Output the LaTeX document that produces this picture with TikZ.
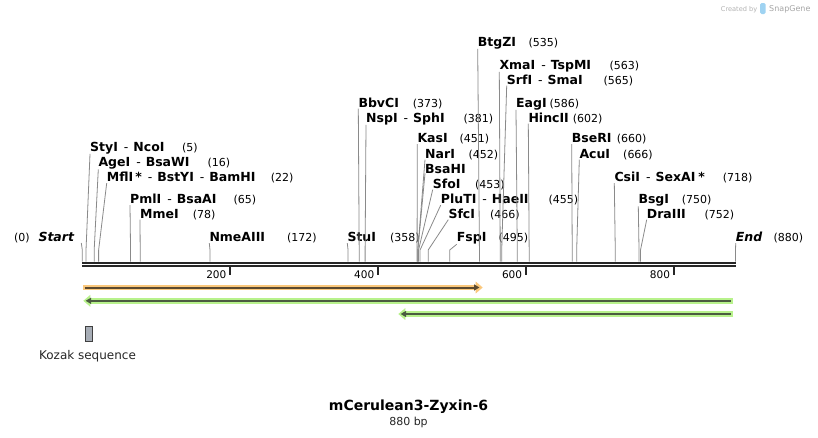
\documentclass[tikz,border=0pt]{standalone}
\usepackage{fontspec}
\setmainfont{DejaVu Sans}[ItalicFont={DejaVu Sans Oblique},BoldItalicFont={DejaVu Sans Bold Oblique}]
\usetikzlibrary{arrows.meta}
\definecolor{barcol}{HTML}{262626}
\definecolor{leadcol}{HTML}{8A8A8A}
\definecolor{orangeband}{HTML}{FBC87C}
\definecolor{orangeline}{HTML}{5B4A30}
\definecolor{greenband}{HTML}{B8F28C}
\definecolor{greenline}{HTML}{4B5B40}
\definecolor{kozakfill}{HTML}{A7ADB6}
\definecolor{logoblue}{HTML}{9FD3F2}
\newcommand{\enzsep}{\hspace{6pt}{\mdseries -}\hspace{5pt}}
\newcommand{\cutpos}[1]{{\mdseries\fontsize{11}{13}\selectfont #1}}
\newcommand{\enzname}[2]{\makebox[#1][l]{#2}}

\begin{document}
\begin{tikzpicture}[x=1pt, y=-1pt,
    enz/.style={anchor=base west, inner sep=0pt, font=\fontsize{12.5}{14}\selectfont\bfseries},
    leader/.style={draw=leadcol, line width=0.8pt},
    bar/.style={draw=barcol, line width=2.3pt},
    tickmark/.style={draw=barcol, line width=2pt},
    ticklbl/.style={anchor=base east, inner sep=0pt, font=\fontsize{10.5}{12}\selectfont},
    band/.style={line width=5.6pt},
    bandtip/.style={-{Triangle[length=7pt,width=11.5pt]}},
    featline/.style={line width=2pt, -{Triangle[length=5.5pt,width=6pt]}},
    kozakbox/.style={draw=black!75, fill=kozakfill, line width=1pt, minimum width=6.7pt, minimum height=15.3pt, inner sep=0pt}
    ]
    \path[use as bounding box, fill=white] (0,0) rectangle (818,437);

    \foreach \p in {0,5,16,22,65,78,172,358,373,381,451,452,453,455,466,495,535,563,565,586,602,660,666,718,750,752,880}
        \coordinate (s\p) at ({82.3+\p*0.7423},261.7);
    \coordinate (bend) at (0,250);
    \coordinate (startlead) at (81.3,243);

    \node[enz] (start) at (14,241.5) {\enzname{24.3pt}{\cutpos{(0)}}\textit{Start}};
    \node[enz] (styi) at (90,151) {\enzname{92pt}{StyI\enzsep NcoI}\cutpos{(5)}};
    \node[enz] (agei) at (98.3,166.5) {\enzname{109pt}{AgeI\enzsep BsaWI}\cutpos{(16)}};
    \node[enz] (mfli) at (106.7,181.5) {\enzname{164pt}{MflI\hspace{2pt}*\enzsep BstYI\enzsep BamHI}\cutpos{(22)}};
    \node[enz] (pmli) at (130,203.5) {\enzname{103.3pt}{PmlI\enzsep BsaAI}\cutpos{(65)}};
    \node[enz] (mmei) at (140,218) {\enzname{52.7pt}{MmeI}\cutpos{(78)}};
    \node[enz] (nmeaiii) at (209.3,241.5) {\enzname{77.7pt}{NmeAIII}\cutpos{(172)}};
    \node[enz] (stui) at (347.3,241.5) {\enzname{42.7pt}{StuI}\cutpos{(358)}};
    \node[enz] (bbvci) at (358.3,107) {\enzname{54.4pt}{BbvCI}\cutpos{(373)}};
    \node[enz] (nspi) at (366,122) {\enzname{97.3pt}{NspI\enzsep SphI}\cutpos{(381)}};
    \node[enz] (kasi) at (417.3,142.5) {\enzname{42pt}{KasI}\cutpos{(451)}};
    \node[enz] (nari) at (425,158) {\enzname{43.3pt}{NarI}\cutpos{(452)}};
    \node[enz] (bsahi) at (425,173) {BsaHI};
    \node[enz] (sfoi) at (432.7,188) {\enzname{42.3pt}{SfoI}\cutpos{(453)}};
    \node[enz] (pluti) at (440.7,203.5) {\enzname{107.6pt}{PluTI\enzsep HaeII}\cutpos{(455)}};
    \node[enz] (sfci) at (448.3,218) {\enzname{41.7pt}{SfcI}\cutpos{(466)}};
    \node[enz] (fspi) at (456.7,241.5) {\enzname{41.6pt}{FspI}\cutpos{(495)}};
    \node[enz] (btgzi) at (477.7,46) {\enzname{50.6pt}{BtgZI}\cutpos{(535)}};
    \node[enz] (xmai) at (499.3,69) {\enzname{110pt}{XmaI\enzsep TspMI}\cutpos{(563)}};
    \node[enz] (srfi) at (506.7,84) {\enzname{96.6pt}{SrfI\enzsep SmaI}\cutpos{(565)}};
    \node[enz] (eagi) at (516,107) {\enzname{33.3pt}{EagI}\cutpos{(586)}};
    \node[enz] (hincii) at (528.3,122) {\enzname{44.4pt}{HincII}\cutpos{(602)}};
    \node[enz] (bseri) at (571.7,142.5) {\enzname{45pt}{BseRI}\cutpos{(660)}};
    \node[enz] (acui) at (579.3,158) {\enzname{43.7pt}{AcuI}\cutpos{(666)}};
    \node[enz] (csii) at (614.3,181.5) {\enzname{108.4pt}{CsiI\enzsep SexAI\hspace{3pt}*}\cutpos{(718)}};
    \node[enz] (bsgi) at (638.3,203.5) {\enzname{43.4pt}{BsgI}\cutpos{(750)}};
    \node[enz] (draiii) at (646.7,218) {\enzname{57.6pt}{DraIII}\cutpos{(752)}};
    \node[enz] (endlbl) at (735.7,241.5) {\enzname{37.6pt}{\textit{End}}\cutpos{(880)}};

    \draw[leader] (startlead) -- (s0 |- bend) -- (s0);
    \foreach \lbl/\pos in {styi/5, agei/16, mfli/22, pmli/65, mmei/78, nmeaiii/172, stui/358,
            bbvci/373, nspi/381, kasi/451, nari/452, bsahi/452, sfoi/453, pluti/455, sfci/466,
            fspi/495, btgzi/535, xmai/563, srfi/565, eagi/586, hincii/602, bseri/660, acui/666,
            csii/718, bsgi/750, draiii/752, endlbl/880}
        \draw[leader] (\lbl.south west) -- (s\pos |- bend) -- (s\pos);

    \coordinate (barl) at (82.3,262.85);
    \coordinate (barr) at (735.8,262.85);
    \draw[bar] (barl) -- (barr);
    \draw[bar] ([yshift=-3.3pt]barl) -- ([yshift=-3.3pt]barr);
    \foreach \t in {200,400,600,800} {
        \draw[tickmark] ({82.1+\t*0.7395},266) -- ++(0,8.5);
        \node[ticklbl] (tick\t) at ({82.1+\t*0.7395-3.5},278) {\t};
    }

    \coordinate (orl) at (83,287.5);
    \coordinate (orr) at (482.7,287.5);
    \draw[band, orangeband, bandtip] (orl) -- (orr);
    \draw[featline, orangeline] ([xshift=1.5pt]orl) -- ([xshift=-3.2pt]orr);
    \coordinate (gal) at (83.3,300.8);
    \coordinate (gar) at (733,300.8);
    \draw[band, greenband, bandtip] (gar) -- (gal);
    \draw[featline, greenline] ([xshift=-2.5pt]gar) -- ([xshift=2.3pt]gal);
    \coordinate (gbl) at (398.3,314);
    \coordinate (gbr) at (733,314);
    \draw[band, greenband, bandtip] (gbr) -- (gbl);
    \draw[featline, greenline] ([xshift=-2.5pt]gbr) -- ([xshift=2.3pt]gbl);

    \node[kozakbox] (kozak) at (88.9,334.2) {};
    \node[anchor=base, font=\fontsize{12}{14}\selectfont, text=black!85] (kozaklbl) at (87.5,359) {Kozak sequence};

    \node[anchor=base, font=\fontsize{14}{16}\selectfont\bfseries] (title) at (408.5,410.7) {mCerulean3-Zyxin-6};
    \node[anchor=base, font=\fontsize{11}{13}\selectfont, text=black!85] (bplen) at (408.5,425) {880 bp};

    \node[anchor=base west, inner sep=0pt, font=\fontsize{6.6}{8}\selectfont, text=black!30] (createdby) at (720.7,11) {Created by};
    \fill[logoblue, rounded corners=1.5pt] (760,3) rectangle (765.5,14);
    \node[anchor=base west, inner sep=0pt, font=\fontsize{8}{10}\selectfont, text=black!35] (snapgene) at (769,11.5) {SnapGene};
\end{tikzpicture}
\end{document}
